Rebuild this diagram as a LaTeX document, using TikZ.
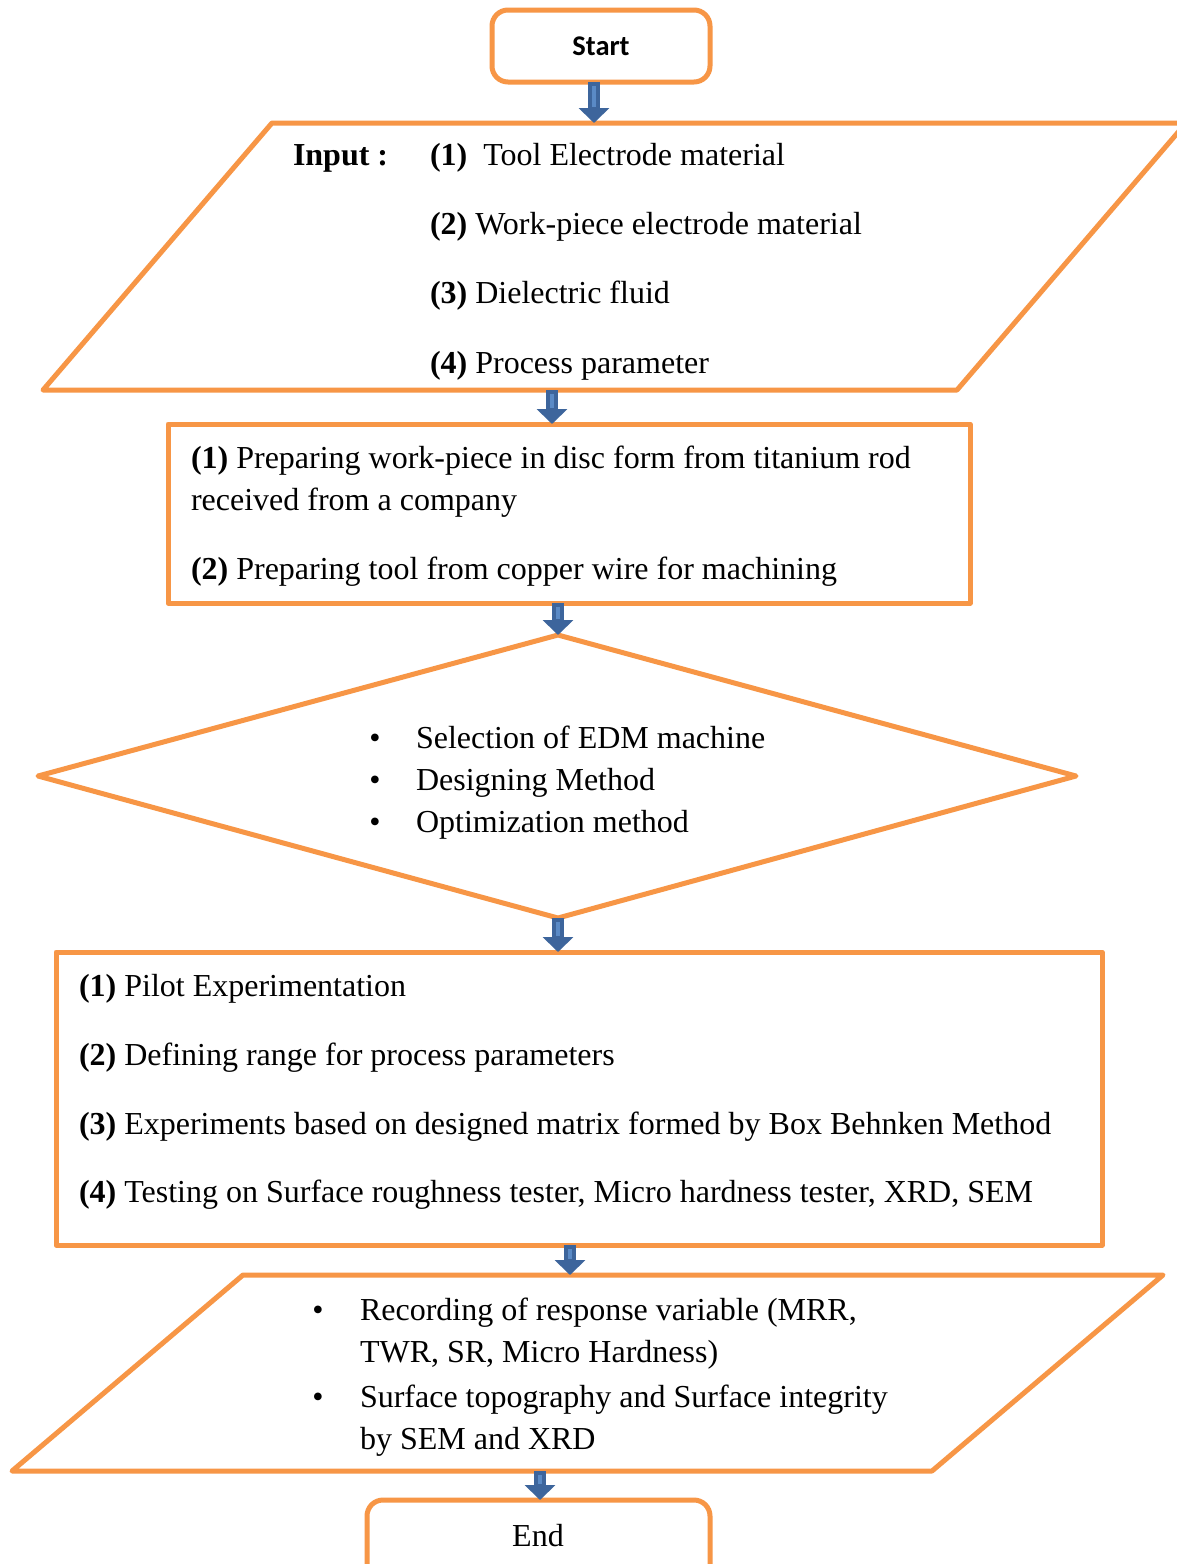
\documentclass[tikz,border=0pt]{standalone}
\usepackage{fontspec}
\setmainfont{Liberation Serif}
\newfontfamily\calfont{Carlito}
\usetikzlibrary{arrows.meta}
\definecolor{orangeln}{HTML}{F79646}
\definecolor{arrdark}{HTML}{3D659C}
\definecolor{arrlight}{HTML}{5A8AC6}
\tikzset{
  shapeln/.style={draw=orangeln, line width=5pt, line join=round, fill=white},
  boxnode/.style={shapeln, inner sep=0pt, outer sep=0pt},
  roundnode/.style={shapeln, rounded corners=16pt, inner sep=0pt, outer sep=0pt},
  txt/.style={inner sep=0pt, outer sep=0pt, font=\fontsize{32}{42}\selectfont, anchor=base west},
  bul/.style={inner sep=0pt, outer sep=0pt, font=\fontsize{32}{42}\selectfont, anchor=base},
  blk/.style={arrdark, line width=12pt, -{Triangle[width=30pt,length=15pt]}},
  blkstripe/.style={arrlight, line width=3.5pt},
}
\begin{document}
\begin{tikzpicture}[x=1pt,y=-1pt]
\useasboundingbox (0,0) rectangle (1177,1564);
\clip (0,0) rectangle (1177,1564);
\fill[white] (0,0) rectangle (1177,1564);

% shapes
\node[roundnode, minimum width=218pt, minimum height=72pt] (start) at (601,46) {};
\node[inner sep=0pt, font=\calfont\bfseries\fontsize{28.5}{32}\selectfont, anchor=base] (starttxt) at (601,55) {Start};

\coordinate (in1) at (272,123); \coordinate (in2) at (1186,123);
\coordinate (in3) at (957,390); \coordinate (in4) at (43,390);
\draw[shapeln] (in1) -- (in2) -- (in3) -- (in4) -- cycle;

\node[boxnode, minimum width=802pt, minimum height=179pt] (prep) at (569,513.5) {};

\coordinate (dT) at (558,635); \coordinate (dR) at (1076,776);
\coordinate (dB) at (558,918); \coordinate (dL) at (38,776);
\draw[shapeln] (dT) -- (dR) -- (dB) -- (dL) -- cycle;

\node[boxnode, minimum width=1046pt, minimum height=293pt] (exp) at (579,1098.5) {};

\coordinate (o1) at (243,1275); \coordinate (o2) at (1163,1275);
\coordinate (o3) at (932,1471); \coordinate (o4) at (12,1471);
\draw[shapeln] (o1) -- (o2) -- (o3) -- (o4) -- cycle;

\node[roundnode, minimum width=343pt, minimum height=120pt] (endb) at (538.5,1560) {};
\node[txt, anchor=base] (endtxt) at (538,1546) {End};

% arrows
\coordinate (x1) at (594,0); \coordinate (x2) at (552,0); \coordinate (x3) at (558,0);
\coordinate (x4) at (558,0); \coordinate (x5) at (570,0); \coordinate (x6) at (540,0);
\draw[blk] (x1 |- start.south) -- (x1 |- in1);
\draw[blkstripe] ([yshift=-4pt]x1 |- start.south) -- ([yshift=16pt]x1 |- in1);
\draw[blk] (x2 |- in4) -- (x2 |- prep.north);
\draw[blkstripe] ([yshift=-4pt]x2 |- in4) -- ([yshift=16pt]x2 |- prep.north);
\draw[blk] (x3 |- prep.south) -- (dT);
\draw[blkstripe] ([yshift=-4pt]x3 |- prep.south) -- ([yshift=16pt]dT);
\draw[blk] (dB) -- (x4 |- exp.north);
\draw[blkstripe] ([yshift=-4pt]dB) -- ([yshift=16pt]x4 |- exp.north);
\draw[blk] (x5 |- exp.south) -- (x5 |- o1);
\draw[blkstripe] ([yshift=-4pt]x5 |- exp.south) -- ([yshift=16pt]x5 |- o1);
\draw[blk] (x6 |- o4) -- (x6 |- endb.north);
\draw[blkstripe] ([yshift=-4pt]x6 |- o4) -- ([yshift=16pt]x6 |- endb.north);

% input texts
\node[txt] (inlab) at (293,165) {\textbf{Input :}};
\node[txt] (in1t) at (430,165) {\textbf{(1)}\ \ Tool Electrode material};
\node[txt] (in2t) at (430,234) {\textbf{(2)} Work-piece electrode material};
\node[txt] (in3t) at (430,303) {\textbf{(3)} Dielectric fluid};
\node[txt] (in4t) at (430,373) {\textbf{(4)} Process parameter};

% prep texts
\node[txt] (p1) at (191,468) {\textbf{(1)} Preparing work-piece in disc form from titanium rod};
\node[txt] (p1b) at (191,510) {received from a company};
\node[txt] (p2) at (191,579) {\textbf{(2)} Preparing tool from copper wire for machining};

% diamond texts
\node[bul] (db1) at (375,748) {\textbullet};
\node[bul] (db2) at (375,790) {\textbullet};
\node[bul] (db3) at (375,832) {\textbullet};
\node[txt] (d1) at (416,748) {Selection of EDM machine};
\node[txt] (d2) at (416,790) {Designing Method};
\node[txt] (d3) at (416,832) {Optimization method};

% experiment texts
\node[txt] (e1) at (79,996) {\textbf{(1)} Pilot Experimentation};
\node[txt] (e2) at (79,1065) {\textbf{(2)} Defining range for process parameters};
\node[txt] (e3) at (79,1134) {\textbf{(3)} Experiments based on designed matrix formed by Box Behnken Method};
\node[txt] (e4) at (79,1202) {\textbf{(4)} Testing on Surface roughness tester, Micro hardness tester, XRD, SEM};

% output texts
\node[bul] (ob1) at (318,1320) {\textbullet};
\node[bul] (ob2) at (318,1407) {\textbullet};
\node[txt] (o1a) at (360,1320) {Recording of response variable (MRR,};
\node[txt] (o1b) at (360,1362) {TWR, SR, Micro Hardness)};
\node[txt] (o2a) at (360,1407) {Surface topography and Surface integrity};
\node[txt] (o2b) at (360,1449) {by SEM and XRD};
\end{tikzpicture}
\end{document}
